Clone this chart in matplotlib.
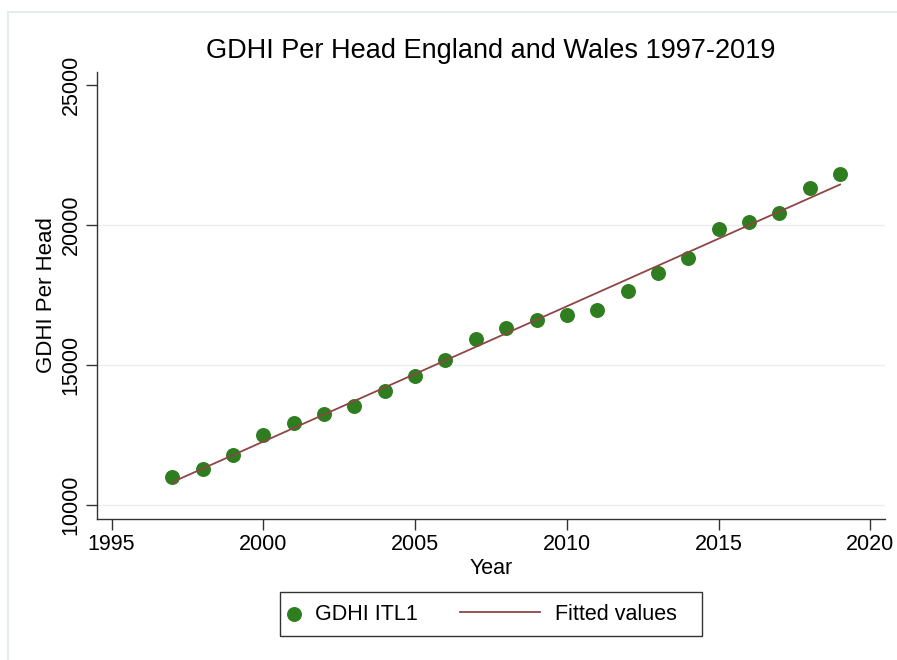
import matplotlib
matplotlib.use("Agg")
import matplotlib.pyplot as plt
from matplotlib.patches import Rectangle
import numpy as np

plt.rcParams['font.family'] = ['Liberation Sans', 'DejaVu Sans']

years = [1997, 1998, 1999, 2000, 2001, 2002, 2003, 2004, 2005, 2006, 2007, 2008,
         2009, 2010, 2011, 2012, 2013, 2014, 2015, 2016, 2017, 2018, 2019]
gdhi = [11010, 11275, 11785, 12500, 12915, 13240, 13550, 14070, 14620, 15180, 15915, 16335,
        16605, 16785, 16965, 17645, 18275, 18810, 19855, 20120, 20440, 21310, 21820]

x_ticks = [1995, 2000, 2005, 2010, 2015, 2020]
y_ticks = [10000, 15000, 20000, 25000]

# linear fit like Stata's lfit
slope, intercept = np.polyfit(years, gdhi, 1)
fitted = [slope * y + intercept for y in years]

W, H = 897, 660
fs = 15.5

fig = plt.figure(figsize=(8.97, 6.6), dpi=100)
# faint outer graph-region border
fig.patches.append(Rectangle((8 / W, -0.1), 1.2, 1.1 - 12 / H, transform=fig.transFigure,
                             fill=False, edgecolor='#e6ecec', linewidth=1.5))

ax = fig.add_axes([97 / W, (H - 519) / H, (885 - 97) / W, (519 - 72) / H])

for g in [10000, 15000, 20000]:
    ax.axhline(g, color='#ececec', linewidth=1, zorder=0)

sc = ax.scatter(years, gdhi, s=95, color='#2e7d1f', zorder=3, label='GDHI ITL1')
ln, = ax.plot(years, fitted, color='#8e4545', linewidth=1.3, zorder=4, label='Fitted values')

ax.set_xlim(1994.52, 2020.48)
ax.set_ylim(9500, 25465)
ax.set_xticks(x_ticks)
ax.set_yticks(y_ticks)
ax.tick_params(axis='both', direction='out', length=8, width=1, color='#333333',
               labelsize=fs, pad=3)
for lab in ax.get_yticklabels():
    lab.set_rotation(90)
    lab.set_va('center')

for s in ['top', 'right']:
    ax.spines[s].set_visible(False)
for s in ['left', 'bottom']:
    ax.spines[s].set_linewidth(1)
    ax.spines[s].set_color('#333333')

ax.set_xlabel('Year', fontsize=fs, labelpad=2)
ax.set_ylabel('GDHI Per Head', fontsize=16, labelpad=3)
ax.set_title('GDHI Per Head England and Wales 1997-2019', fontsize=19.5, pad=10)

# legend: two entries with different handle lengths, one shared frame
ly = (H - 614) / H
leg1 = fig.legend([sc], ['GDHI ITL1'], loc='center left', bbox_to_anchor=(283 / W, ly),
                  fontsize=fs, frameon=False, handlelength=1.0, handletextpad=0.5,
                  borderpad=0, borderaxespad=0, scatterpoints=1)
leg2 = fig.legend([ln], ['Fitted values'], loc='center left', bbox_to_anchor=(460 / W, ly),
                  fontsize=fs, frameon=False, handlelength=3.7, handletextpad=0.7,
                  borderpad=0, borderaxespad=0)
fig.patches.append(Rectangle((280 / W, (H - 636) / H), 422 / W, 44 / H,
                             transform=fig.transFigure, fill=False,
                             edgecolor='#333333', linewidth=1))

fig.savefig('out.png', dpi=100)
